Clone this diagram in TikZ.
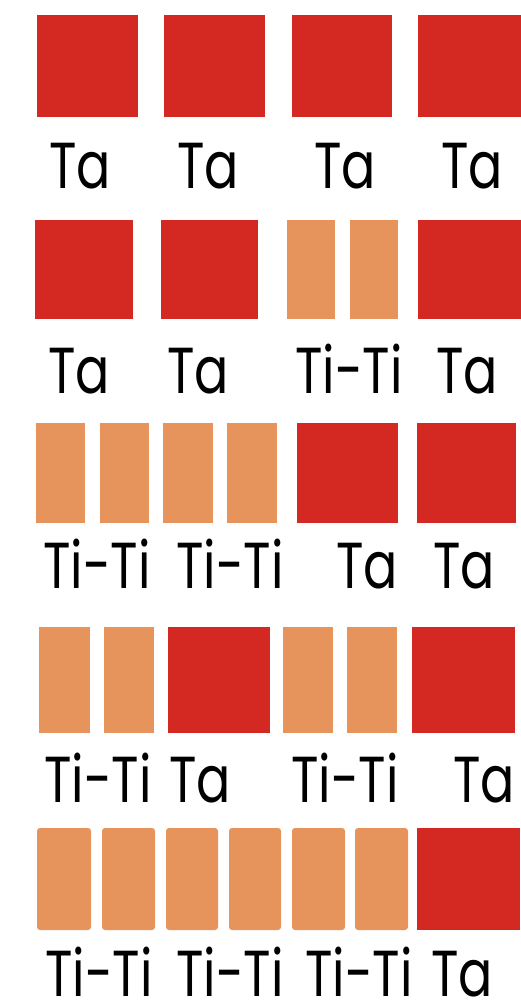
\documentclass[tikz,border=0pt]{standalone}
\usepackage{fontspec}
\setmainfont{Poppins}
\definecolor{tared}{RGB}{212,40,34}
\definecolor{tiorange}{RGB}{230,148,92}
\newcommand\sylb[1]{\scalebox{0.78}[1]{#1}}
\tikzset{
  ta/.style={fill=tared},
  ti/.style={fill=tiorange},
  tir/.style={fill=tiorange, rounded corners=3pt},
  lbl/.style={anchor=base, inner sep=0pt, text depth=0pt, font=\fontsize{65}{65}\selectfont, text=black}
}
\begin{document}
\begin{tikzpicture}[x=1pt,y=-1pt]
\useasboundingbox (0,0) rectangle (521,1007);
% Row 1
\path[ta] (37,15) rectangle (138,117);
\path[ta] (164,15) rectangle (265,117);
\path[ta] (292,15) rectangle (392,117);
\path[ta] (418,15) rectangle (521,117);
\node[lbl] (l11) at (80,188) {\sylb{Ta}};
\node[lbl] (l12) at (208,188) {\sylb{Ta}};
\node[lbl] (l13) at (345,188) {\sylb{Ta}};
\node[lbl] (l14) at (472,188) {\sylb{Ta}};
% Row 2
\path[ta] (35,220) rectangle (133,319);
\path[ta] (161,220) rectangle (258,319);
\path[ti] (287,220) rectangle (335,319);
\path[ti] (350,220) rectangle (398,319);
\path[ta] (418,220) rectangle (521,319);
\node[lbl] (l21) at (79,393) {\sylb{Ta}};
\node[lbl] (l22) at (198,393) {\sylb{Ta}};
\node[lbl] (l23) at (349,393) {\sylb{Ti-Ti}};
\node[lbl] (l24) at (467,393) {\sylb{Ta}};
% Row 3
\path[ti] (36,423) rectangle (85,523);
\path[ti] (100,423) rectangle (149,523);
\path[ti] (163,423) rectangle (213,523);
\path[ti] (227,423) rectangle (277,523);
\path[ta] (297,423) rectangle (398,523);
\path[ta] (417,423) rectangle (516,523);
\node[lbl] (l31) at (97,588) {\sylb{Ti-Ti}};
\node[lbl] (l32) at (230,588) {\sylb{Ti-Ti}};
\node[lbl] (l33) at (367,588) {\sylb{Ta}};
\node[lbl] (l34) at (464,588) {\sylb{Ta}};
% Row 4
\path[ti] (39,627) rectangle (90,733);
\path[ti] (104,627) rectangle (154,733);
\path[ta] (168,627) rectangle (270,733);
\path[ti] (283,627) rectangle (333,733);
\path[ti] (347,627) rectangle (397,733);
\path[ta] (412,627) rectangle (515,733);
\node[lbl] (l41) at (98,802) {\sylb{Ti-Ti}};
\node[lbl] (l42) at (200,802) {\sylb{Ta}};
\node[lbl] (l43) at (345,802) {\sylb{Ti-Ti}};
\node[lbl] (l44) at (484,802) {\sylb{Ta}};
% Row 5
\path[tir] (37,828) rectangle (91,930);
\path[tir] (102,828) rectangle (155,930);
\path[tir] (166,828) rectangle (218,930);
\path[tir] (229,828) rectangle (281,930);
\path[tir] (292,828) rectangle (345,930);
\path[tir] (355,828) rectangle (408,930);
\path[ta] (417,828) rectangle (520,930);
\node[lbl] (l51) at (99,996) {\sylb{Ti-Ti}};
\node[lbl] (l52) at (230,996) {\sylb{Ti-Ti}};
\node[lbl] (l53) at (359,996) {\sylb{Ti-Ti}};
\node[lbl] (l54) at (462,996) {\sylb{Ta}};
\end{tikzpicture}
\end{document}
